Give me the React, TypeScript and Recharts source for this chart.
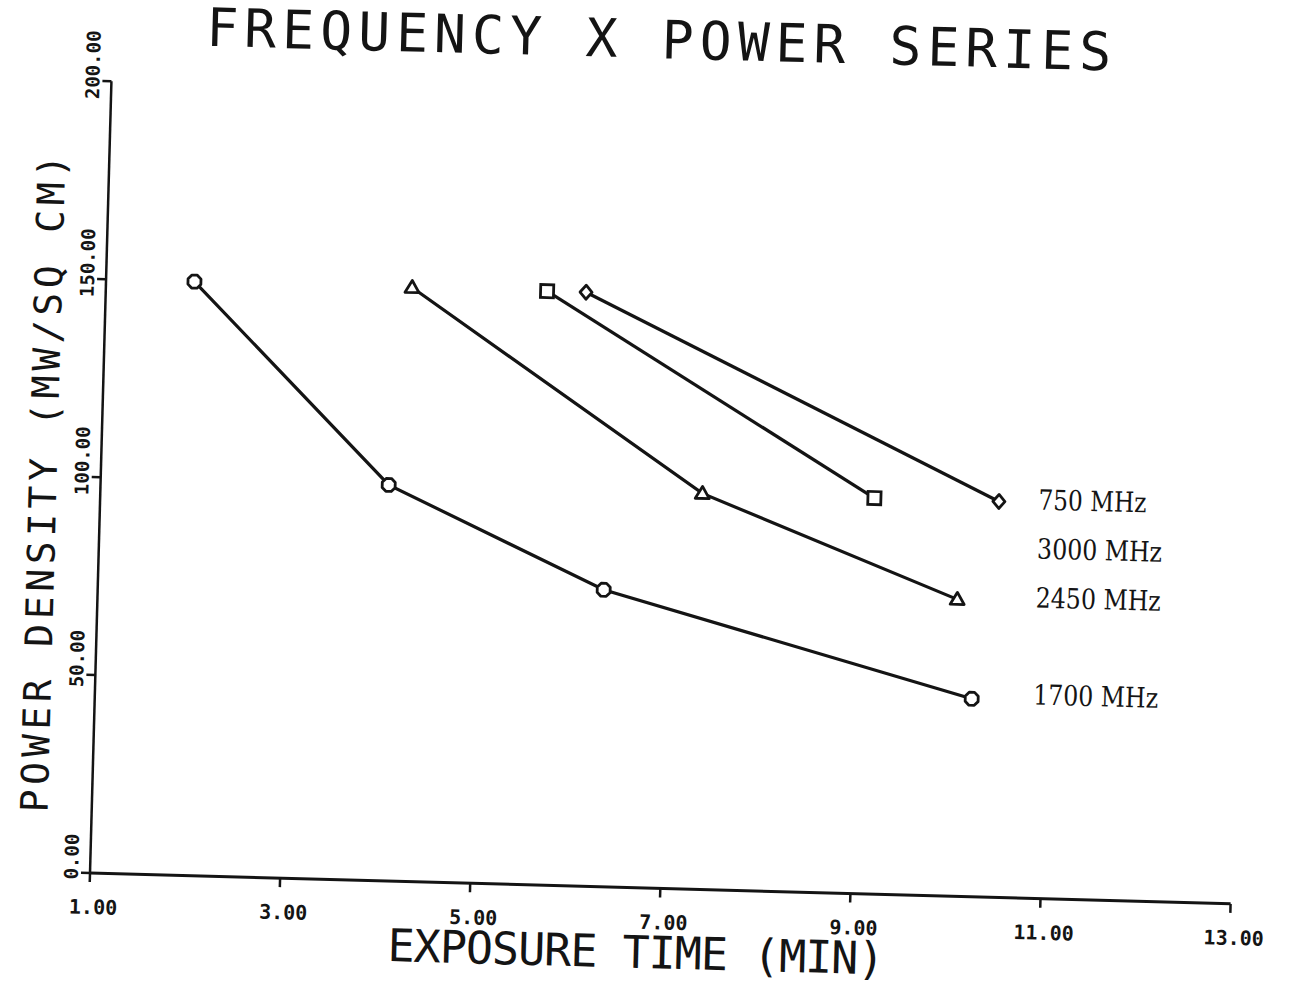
import React from 'react';
import { LineChart, Line, XAxis, YAxis, Customized } from 'recharts';

// ---- data ----
const xTicks = [1, 3, 5, 7, 9, 11, 13];
const yTicks = [0, 50, 100, 150, 200];

const seriesNames = ['750 MHz', '3000 MHz', '2450 MHz', '1700 MHz'];

const time1700 = [1.93, 4.03, 6.32, 10.22];
const power1700 = [150, 100, 75, 50];

const time2450 = [4.22, 7.33, 10.04];
const power2450 = [150, 100, 75];

const time3000 = [5.64, 9.14];
const power3000 = [150, 100];

const time750 = [6.05, 10.45];
const power750 = [150, 100];

const toRows = (t: number[], p: number[]) => t.map((x, i) => ({ time: x, power: p[i] }));

const rows1700 = toRows(time1700, power1700);
const rows2450 = toRows(time2450, power2450);
const rows3000 = toRows(time3000, power3000);
const rows750 = toRows(time750, power750);

const INK = '#141414';
const PLOT_FONT = '"DejaVu Sans Mono", monospace';

// ---- markers ----
const SquareDot = (props: any) => {
  const { cx, cy } = props;
  if (cx == null || cy == null) return null;
  return <rect x={cx - 6.5} y={cy - 6.5} width={13} height={13} fill="#fff" stroke={INK} strokeWidth={2.8} />;
};
const TriangleDot = (props: any) => {
  const { cx, cy } = props;
  if (cx == null || cy == null) return null;
  const pts = `${cx},${cy - 7} ${cx - 7},${cy + 5} ${cx + 7},${cy + 5}`;
  return <polygon points={pts} fill="#fff" stroke={INK} strokeWidth={2.8} strokeLinejoin="round" />;
};
const DiamondDot = (props: any) => {
  const { cx, cy } = props;
  if (cx == null || cy == null) return null;
  const pts = `${cx},${cy - 7} ${cx + 6},${cy} ${cx},${cy + 7} ${cx - 6},${cy}`;
  return <polygon points={pts} fill="#fff" stroke={INK} strokeWidth={2.8} strokeLinejoin="round" />;
};
const OctagonDot = (props: any) => {
  const { cx, cy } = props;
  if (cx == null || cy == null) return null;
  const r = 7;
  const pts: string[] = [];
  for (let i = 0; i < 8; i++) {
    const a = Math.PI / 8 + (i * Math.PI) / 4;
    pts.push(`${cx + r * Math.cos(a)},${cy + r * Math.sin(a)}`);
  }
  return <polygon points={pts.join(' ')} fill="#fff" stroke={INK} strokeWidth={2.8} strokeLinejoin="round" />;
};

// ---- ticks ----
const XTick = (props: any) => {
  const { x, y, payload } = props;
  return (
    <text
      x={x + 4}
      y={y + 25}
      textAnchor="middle"
      dominantBaseline="central"
      fontFamily={PLOT_FONT}
      fontWeight="bold"
      fontSize={20}
      fill={INK}
    >
      {Number(payload.value).toFixed(2)}
    </text>
  );
};

const YTick = (props: any) => {
  const { x, y, payload } = props;
  const cx = x - 10;
  const cy = y - 16;
  return (
    <text
      x={cx}
      y={cy}
      transform={`rotate(-90, ${cx}, ${cy})`}
      textAnchor="middle"
      dominantBaseline="central"
      fontFamily={PLOT_FONT}
      fontWeight="bold"
      fontSize={19}
      fill={INK}
    >
      {Number(payload.value).toFixed(2)}
    </text>
  );
};

// ---- free text (title, axis titles, series labels) ----
const labelStarts = [
  { x: 1028, y: 484, w: 108 },
  { x: 1028, y: 533, w: 125 },
  { x: 1028, y: 582, w: 125 },
  { x: 1028, y: 679, w: 125 },
];

const Annotations = () => (
  <g>
    <text
      x={636}
      y={43}
      textAnchor="middle"
      fontFamily={PLOT_FONT}
      fontSize={53}
      textLength={905}
      lengthAdjust="spacing"
      fill={INK}
    >
      FREQUENCY X POWER SERIES
    </text>
    <text
      x={638}
      y={953}
      textAnchor="middle"
      fontFamily={PLOT_FONT}
      fontSize={45}
      textLength={497}
      lengthAdjust="spacing"
      fill={INK}
    >
      EXPOSURE TIME (MIN)
    </text>
    <text
      x={46}
      y={485}
      transform="rotate(-90, 46, 485)"
      textAnchor="middle"
      fontFamily={PLOT_FONT}
      fontSize={38}
      textLength={658}
      lengthAdjust="spacing"
      fill={INK}
    >
      POWER DENSITY (MW/SQ CM)
    </text>
    {seriesNames.map((name, i) => (
      <text
        key={name}
        x={labelStarts[i].x}
        y={labelStarts[i].y}
        fontFamily='"DejaVu Serif", serif'
        fontSize={28}
        textLength={labelStarts[i].w}
        lengthAdjust="spacingAndGlyphs"
        fill={INK}
      >
        {name}
      </text>
    ))}
  </g>
);

export default function App() {
  return (
    <div
      style={{
        position: 'absolute',
        left: 0,
        top: 0,
        width: 1291,
        height: 987,
        overflow: 'hidden',
        background: '#fff',
      }}
    >
      <div
        style={{
          width: 1291,
          height: 987,
          transform: 'rotate(1.55deg)',
          transformOrigin: '90px 873px',
        }}
      >
        <LineChart width={1291} height={987} margin={{ top: 81, right: 60, bottom: 74, left: 30 }}>
          <XAxis
            dataKey="time"
            type="number"
            domain={[1, 13]}
            ticks={xTicks}
            allowDataOverflow
            height={40}
            tickSize={9}
            tickMargin={0}
            axisLine={{ stroke: INK, strokeWidth: 3 }}
            tickLine={{ stroke: INK, strokeWidth: 2.5 }}
            tick={<XTick />}
            interval={0}
          />
          <YAxis
            dataKey="power"
            type="number"
            domain={[0, 200]}
            ticks={yTicks}
            allowDataOverflow
            width={60}
            tickSize={9}
            tickMargin={0}
            axisLine={{ stroke: INK, strokeWidth: 2.5 }}
            tickLine={{ stroke: INK, strokeWidth: 2.5 }}
            tick={<YTick />}
            interval={0}
          />
          <Line
            data={rows750}
            dataKey="power"
            name={seriesNames[0]}
            type="linear"
            stroke={INK}
            strokeWidth={3.2}
            dot={(p: any) => <DiamondDot key={`d750-${p.index}`} {...p} />}
            isAnimationActive={false}
          />
          <Line
            data={rows3000}
            dataKey="power"
            name={seriesNames[1]}
            type="linear"
            stroke={INK}
            strokeWidth={3.2}
            dot={(p: any) => <SquareDot key={`d3000-${p.index}`} {...p} />}
            isAnimationActive={false}
          />
          <Line
            data={rows2450}
            dataKey="power"
            name={seriesNames[2]}
            type="linear"
            stroke={INK}
            strokeWidth={3.2}
            dot={(p: any) => <TriangleDot key={`d2450-${p.index}`} {...p} />}
            isAnimationActive={false}
          />
          <Line
            data={rows1700}
            dataKey="power"
            name={seriesNames[3]}
            type="linear"
            stroke={INK}
            strokeWidth={3.2}
            dot={(p: any) => <OctagonDot key={`d1700-${p.index}`} {...p} />}
            isAnimationActive={false}
          />
          <Customized component={Annotations} />
        </LineChart>
      </div>
    </div>
  );
}
